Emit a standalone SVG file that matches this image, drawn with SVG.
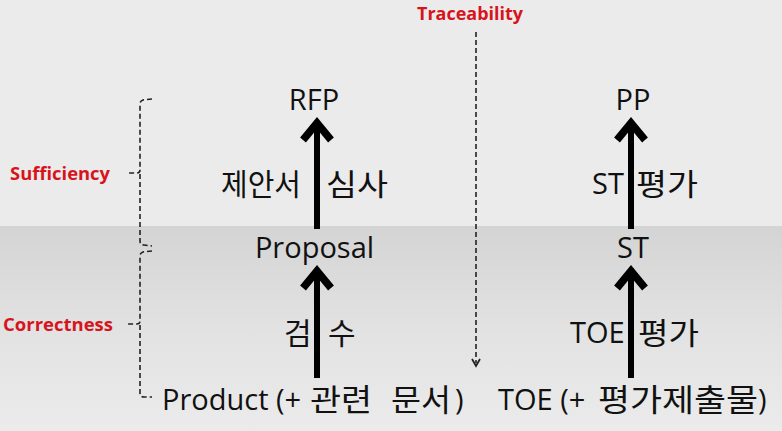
<svg xmlns="http://www.w3.org/2000/svg" width="782" height="431" viewBox="0 0 782 431">
  <defs>
    <linearGradient id="lowerBand" x1="0" y1="0" x2="0" y2="1">
      <stop offset="0" stop-color="#d4d4d4"/>
      <stop offset="0.5" stop-color="#e2e2e2"/>
      <stop offset="1" stop-color="#ebebeb"/>
    </linearGradient>
    <style>
      .main { font-family: "Open Sans", "Noto Sans CJK KR", sans-serif; font-size: 29px; fill: #111; }
      .mid { text-anchor: middle; }
      .ko { font-family: "Noto Sans CJK KR", sans-serif; font-size: 30px; fill: #111; }
      .ko-lg { font-family: "Noto Sans CJK KR", sans-serif; font-size: 31px; fill: #111; }
      .tag { font-family: "Open Sans", "Liberation Sans", sans-serif; font-size: 18px; font-weight: bold; fill: #d7141c; }
      .shaft { stroke: #000; stroke-width: 6; fill: none; }
      .head { stroke: #000; stroke-width: 7.5; fill: none; stroke-linejoin: miter; }
      .dash { stroke: #222; stroke-width: 1.6; fill: none; stroke-dasharray: 5 3; }
      .tip { stroke: #222; stroke-width: 1.8; fill: none; }
    </style>
  </defs>

  <!-- background -->
  <rect x="0" y="0" width="782" height="431" fill="#ebebeb"/>
  <rect x="0" y="226" width="782" height="205" fill="url(#lowerBand)"/>

  <!-- side labels -->
  <text class="tag" x="10" y="180" textLength="100" lengthAdjust="spacingAndGlyphs">Sufficiency</text>
  <text class="tag" x="3" y="331" textLength="110" lengthAdjust="spacingAndGlyphs">Correctness</text>
  <text class="tag" x="417" y="20" textLength="106" lengthAdjust="spacingAndGlyphs">Traceability</text>

  <g id="connectors">
    <!-- left column arrows -->
    <line class="shaft" x1="317" y1="229" x2="317" y2="126"/>
    <path class="head" d="M303,140 L317,123 L331,140"/>
    <line class="shaft" x1="317" y1="378" x2="317" y2="274"/>
    <path class="head" d="M303,288 L317,271 L331,288"/>
    <!-- right column arrows -->
    <line class="shaft" x1="631" y1="229" x2="631" y2="126"/>
    <path class="head" d="M617,140 L631,123 L645,140"/>
    <line class="shaft" x1="631" y1="378" x2="631" y2="274"/>
    <path class="head" d="M617,288 L631,271 L645,288"/>
    <!-- traceability -->
    <line class="dash" x1="476" y1="32" x2="476" y2="363"/>
    <path class="tip" d="M472,359 L476,366 L480,359"/>
    <!-- braces -->
    <path class="dash" d="M152,99 L143,100 Q140,101 140,104 L140,170 Q140,173 137,173 L127,173 M140,174 L140,241 Q140,245 144,245 L152,246"/>
    <path class="dash" d="M152,251 L143,252 Q140,253 140,256 L140,321 Q140,324 137,324 L127,324 M140,325 L140,393 Q140,397 144,397 L152,397"/>
  </g>

  <g id="rfp"><text class="main mid" x="314" y="110">RFP</text></g>
  <g id="proposal-review">
    <text class="ko" x="221" y="195" textLength="80" lengthAdjust="spacingAndGlyphs">제안서</text>
    <text class="ko" x="326" y="195" textLength="62" lengthAdjust="spacingAndGlyphs">심사</text>
  </g>
  <g id="proposal"><text class="main mid" x="314.5" y="258">Proposal</text></g>
  <g id="inspection">
    <text class="ko" x="284" y="344">검</text>
    <text class="ko" x="328" y="344">수</text>
  </g>
  <g id="product">
    <text class="main" x="162" y="410">Product (+</text>
    <text class="ko-lg" x="310" y="411" textLength="62" lengthAdjust="spacingAndGlyphs">관련</text>
    <text class="ko-lg" x="391" y="411" textLength="60" lengthAdjust="spacingAndGlyphs">문서</text>
    <text class="main" x="455" y="410">)</text>
  </g>

  <g id="pp"><text class="main mid" x="633" y="110">PP</text></g>
  <g id="st-eval">
    <text class="main" x="592" y="194">ST</text>
    <text class="ko" x="636" y="195" textLength="62" lengthAdjust="spacingAndGlyphs">평가</text>
  </g>
  <g id="st"><text class="main mid" x="633" y="258">ST</text></g>
  <g id="toe-eval">
    <text class="main" x="570" y="343">TOE</text>
    <text class="ko" x="638" y="344" textLength="61" lengthAdjust="spacingAndGlyphs">평가</text>
  </g>
  <g id="toe">
    <text class="main" x="498" y="410">TOE (+</text>
    <text class="ko-lg" x="598" y="411" textLength="160" lengthAdjust="spacingAndGlyphs">평가제출물</text>
    <text class="main" x="758" y="410">)</text>
  </g>
</svg>
